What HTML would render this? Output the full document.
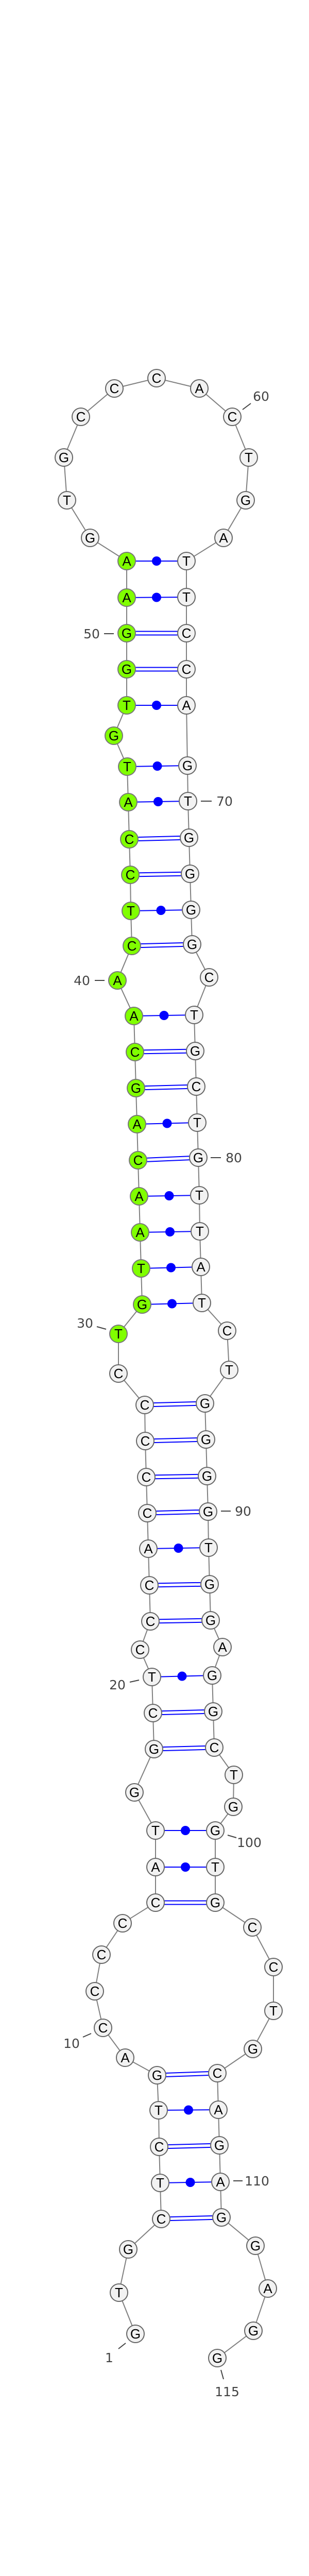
<!DOCTYPE html>
<html><head><meta charset="utf-8"><style>
html,body{margin:0;padding:0;background:#fff;width:600px;height:5273px;overflow:hidden;}
svg{display:block;}
.n{fill:#f2f2f2;stroke:#666;stroke-width:2;}
.g{fill:#80ff00;stroke:#777;stroke-width:2;}
.t{font-family:"Liberation Sans","DejaVu Sans",sans-serif;font-size:26px;text-anchor:middle;fill:#000;}
.l{font-family:"DejaVu Sans","Liberation Sans",sans-serif;font-size:25px;text-anchor:middle;fill:#444;}
.k{stroke:#444;stroke-width:2;}
.b{stroke:#00f;stroke-width:2;}
.d{fill:#00f;}
</style></head><body>
<svg width="600" height="5273" viewBox="0 0 600 5273" xmlns="http://www.w3.org/2000/svg">
<polyline fill="none" stroke="#808080" stroke-width="2" points="263,4530 231,4450 249,4366 313,4307 311,4237 309,4167 308,4096 305,4028 243,3994 200,3936 184,3865 197,3794 238,3733 302,3693 302,3624 302,3553 261,3479 299,3395 297,3325 295,3255 272,3202 292,3147 290,3077 288,3006 286,2937 284,2867 282,2797 281,2727 230,2666 230,2589 276,2532 274,2462 272,2392 270,2322 268,2252 266,2182 264,2112 262,2042 260,1972 228,1903 256,1836 254,1768 253,1698 251,1629 249,1557 247,1488 221,1428 246,1369 246,1299 246,1229 246,1160 246,1089 175,1044 130,971 124,888 157,809 222,754 304,734 387,754 451,809 483,888 477,971 434,1044 362,1089 362,1159 362,1229 362,1299 362,1369 364,1486 365,1555 367,1626 369,1696 371,1766 373,1833 406,1897 377,1970 379,2040 381,2109 383,2179 385,2247 387,2320 388,2390 390,2459 392,2529 441,2583 445,2659 398,2724 400,2794 402,2865 404,2934 405,3004 407,3075 409,3145 432,3197 412,3252 414,3322 416,3392 454,3445 453,3507 418,3553 418,3624 418,3693 490,3741 531,3818 531,3903 491,3977 422,4024 424,4095 426,4164 428,4235 430,4304 496,4359 520,4442 492,4524 422,4577"/>
<g class="b">
<line x1="311" y1="4237" x2="428" y2="4235"/>
<line x1="308" y1="4096" x2="424" y2="4095"/>
<line x1="302" y1="3624" x2="418" y2="3624"/>
<line x1="302" y1="3553" x2="418" y2="3553"/>
<line x1="295" y1="3255" x2="412" y2="3252"/>
<line x1="288" y1="3006" x2="405" y2="3004"/>
<line x1="276" y1="2532" x2="392" y2="2529"/>
<line x1="274" y1="2462" x2="390" y2="2459"/>
<line x1="272" y1="2392" x2="388" y2="2390"/>
<line x1="270" y1="2322" x2="387" y2="2320"/>
<line x1="266" y1="2182" x2="383" y2="2179"/>
<line x1="260" y1="1972" x2="377" y2="1970"/>
<line x1="254" y1="1768" x2="371" y2="1766"/>
<line x1="249" y1="1557" x2="365" y2="1555"/>
<line x1="247" y1="1488" x2="364" y2="1486"/>
<line x1="246" y1="1369" x2="362" y2="1369"/>
<line x1="246" y1="1160" x2="362" y2="1159"/>
<line x1="246" y1="1089" x2="362" y2="1089"/>
</g>
<g class="d">
<circle cx="369.5" cy="4236" r="9"/>
<circle cx="366" cy="4095.5" r="9"/>
<circle cx="360" cy="3624" r="9"/>
<circle cx="360" cy="3553" r="9"/>
<circle cx="353.5" cy="3253.5" r="9"/>
<circle cx="346.5" cy="3005" r="9"/>
<circle cx="334" cy="2530.5" r="9"/>
<circle cx="332" cy="2460.5" r="9"/>
<circle cx="330" cy="2391" r="9"/>
<circle cx="328.5" cy="2321" r="9"/>
<circle cx="324.5" cy="2180.5" r="9"/>
<circle cx="318.5" cy="1971" r="9"/>
<circle cx="312.5" cy="1767" r="9"/>
<circle cx="307" cy="1556" r="9"/>
<circle cx="305.5" cy="1487" r="9"/>
<circle cx="304" cy="1369" r="9"/>
<circle cx="304" cy="1159.5" r="9"/>
<circle cx="304" cy="1089" r="9"/>
</g>
<g class="b">
<line x1="313" y1="4303.5" x2="430" y2="4300.5"/><line x1="313" y1="4310.5" x2="430" y2="4307.5"/>
<line x1="309" y1="4163.5" x2="426" y2="4160.5"/><line x1="309" y1="4170.5" x2="426" y2="4167.5"/>
<line x1="305" y1="4024.5" x2="422" y2="4020.5"/><line x1="305" y1="4031.5" x2="422" y2="4027.5"/>
<line x1="302" y1="3689.5" x2="418" y2="3689.5"/><line x1="302" y1="3696.5" x2="418" y2="3696.5"/>
<line x1="299" y1="3391.5" x2="416" y2="3388.5"/><line x1="299" y1="3398.5" x2="416" y2="3395.5"/>
<line x1="297" y1="3321.5" x2="414" y2="3318.5"/><line x1="297" y1="3328.5" x2="414" y2="3325.5"/>
<line x1="292" y1="3143.5" x2="409" y2="3141.5"/><line x1="292" y1="3150.5" x2="409" y2="3148.5"/>
<line x1="290" y1="3073.5" x2="407" y2="3071.5"/><line x1="290" y1="3080.5" x2="407" y2="3078.5"/>
<line x1="286" y1="2933.5" x2="404" y2="2930.5"/><line x1="286" y1="2940.5" x2="404" y2="2937.5"/>
<line x1="284" y1="2863.5" x2="402" y2="2861.5"/><line x1="284" y1="2870.5" x2="402" y2="2868.5"/>
<line x1="282" y1="2793.5" x2="400" y2="2790.5"/><line x1="282" y1="2800.5" x2="400" y2="2797.5"/>
<line x1="281" y1="2723.5" x2="398" y2="2720.5"/><line x1="281" y1="2730.5" x2="398" y2="2727.5"/>
<line x1="268" y1="2248.5" x2="385" y2="2243.5"/><line x1="268" y1="2255.5" x2="385" y2="2250.5"/>
<line x1="264" y1="2108.5" x2="381" y2="2105.5"/><line x1="264" y1="2115.5" x2="381" y2="2112.5"/>
<line x1="262" y1="2038.5" x2="379" y2="2036.5"/><line x1="262" y1="2045.5" x2="379" y2="2043.5"/>
<line x1="256" y1="1832.5" x2="373" y2="1829.5"/><line x1="256" y1="1839.5" x2="373" y2="1836.5"/>
<line x1="253" y1="1694.5" x2="369" y2="1692.5"/><line x1="253" y1="1701.5" x2="369" y2="1699.5"/>
<line x1="251" y1="1625.5" x2="367" y2="1622.5"/><line x1="251" y1="1632.5" x2="367" y2="1629.5"/>
<line x1="246" y1="1295.5" x2="362" y2="1295.5"/><line x1="246" y1="1302.5" x2="362" y2="1302.5"/>
<line x1="246" y1="1225.5" x2="362" y2="1225.5"/><line x1="246" y1="1232.5" x2="362" y2="1232.5"/>
</g>
<g>
<circle class="n" cx="263" cy="4530" r="17"/><text class="t" x="263" y="4539">G</text>
<circle class="n" cx="231" cy="4450" r="17"/><text class="t" x="231" y="4459">T</text>
<circle class="n" cx="249" cy="4366" r="17"/><text class="t" x="249" y="4375">G</text>
<circle class="n" cx="313" cy="4307" r="17"/><text class="t" x="313" y="4316">C</text>
<circle class="n" cx="311" cy="4237" r="17"/><text class="t" x="311" y="4246">T</text>
<circle class="n" cx="309" cy="4167" r="17"/><text class="t" x="309" y="4176">C</text>
<circle class="n" cx="308" cy="4096" r="17"/><text class="t" x="308" y="4105">T</text>
<circle class="n" cx="305" cy="4028" r="17"/><text class="t" x="305" y="4037">G</text>
<circle class="n" cx="243" cy="3994" r="17"/><text class="t" x="243" y="4003">A</text>
<circle class="n" cx="200" cy="3936" r="17"/><text class="t" x="200" y="3945">C</text>
<circle class="n" cx="184" cy="3865" r="17"/><text class="t" x="184" y="3874">C</text>
<circle class="n" cx="197" cy="3794" r="17"/><text class="t" x="197" y="3803">C</text>
<circle class="n" cx="238" cy="3733" r="17"/><text class="t" x="238" y="3742">C</text>
<circle class="n" cx="302" cy="3693" r="17"/><text class="t" x="302" y="3702">C</text>
<circle class="n" cx="302" cy="3624" r="17"/><text class="t" x="302" y="3633">A</text>
<circle class="n" cx="302" cy="3553" r="17"/><text class="t" x="302" y="3562">T</text>
<circle class="n" cx="261" cy="3479" r="17"/><text class="t" x="261" y="3488">G</text>
<circle class="n" cx="299" cy="3395" r="17"/><text class="t" x="299" y="3404">G</text>
<circle class="n" cx="297" cy="3325" r="17"/><text class="t" x="297" y="3334">C</text>
<circle class="n" cx="295" cy="3255" r="17"/><text class="t" x="295" y="3264">T</text>
<circle class="n" cx="272" cy="3202" r="17"/><text class="t" x="272" y="3211">C</text>
<circle class="n" cx="292" cy="3147" r="17"/><text class="t" x="292" y="3156">C</text>
<circle class="n" cx="290" cy="3077" r="17"/><text class="t" x="290" y="3086">C</text>
<circle class="n" cx="288" cy="3006" r="17"/><text class="t" x="288" y="3015">A</text>
<circle class="n" cx="286" cy="2937" r="17"/><text class="t" x="286" y="2946">C</text>
<circle class="n" cx="284" cy="2867" r="17"/><text class="t" x="284" y="2876">C</text>
<circle class="n" cx="282" cy="2797" r="17"/><text class="t" x="282" y="2806">C</text>
<circle class="n" cx="281" cy="2727" r="17"/><text class="t" x="281" y="2736">C</text>
<circle class="n" cx="230" cy="2666" r="17"/><text class="t" x="230" y="2675">C</text>
<circle class="g" cx="230" cy="2589" r="17"/><text class="t" x="230" y="2598">T</text>
<circle class="g" cx="276" cy="2532" r="17"/><text class="t" x="276" y="2541">G</text>
<circle class="g" cx="274" cy="2462" r="17"/><text class="t" x="274" y="2471">T</text>
<circle class="g" cx="272" cy="2392" r="17"/><text class="t" x="272" y="2401">A</text>
<circle class="g" cx="270" cy="2322" r="17"/><text class="t" x="270" y="2331">A</text>
<circle class="g" cx="268" cy="2252" r="17"/><text class="t" x="268" y="2261">C</text>
<circle class="g" cx="266" cy="2182" r="17"/><text class="t" x="266" y="2191">A</text>
<circle class="g" cx="264" cy="2112" r="17"/><text class="t" x="264" y="2121">G</text>
<circle class="g" cx="262" cy="2042" r="17"/><text class="t" x="262" y="2051">C</text>
<circle class="g" cx="260" cy="1972" r="17"/><text class="t" x="260" y="1981">A</text>
<circle class="g" cx="228" cy="1903" r="17"/><text class="t" x="228" y="1912">A</text>
<circle class="g" cx="256" cy="1836" r="17"/><text class="t" x="256" y="1845">C</text>
<circle class="g" cx="254" cy="1768" r="17"/><text class="t" x="254" y="1777">T</text>
<circle class="g" cx="253" cy="1698" r="17"/><text class="t" x="253" y="1707">C</text>
<circle class="g" cx="251" cy="1629" r="17"/><text class="t" x="251" y="1638">C</text>
<circle class="g" cx="249" cy="1557" r="17"/><text class="t" x="249" y="1566">A</text>
<circle class="g" cx="247" cy="1488" r="17"/><text class="t" x="247" y="1497">T</text>
<circle class="g" cx="221" cy="1428" r="17"/><text class="t" x="221" y="1437">G</text>
<circle class="g" cx="246" cy="1369" r="17"/><text class="t" x="246" y="1378">T</text>
<circle class="g" cx="246" cy="1299" r="17"/><text class="t" x="246" y="1308">G</text>
<circle class="g" cx="246" cy="1229" r="17"/><text class="t" x="246" y="1238">G</text>
<circle class="g" cx="246" cy="1160" r="17"/><text class="t" x="246" y="1169">A</text>
<circle class="g" cx="246" cy="1089" r="17"/><text class="t" x="246" y="1098">A</text>
<circle class="n" cx="175" cy="1044" r="17"/><text class="t" x="175" y="1053">G</text>
<circle class="n" cx="130" cy="971" r="17"/><text class="t" x="130" y="980">T</text>
<circle class="n" cx="124" cy="888" r="17"/><text class="t" x="124" y="897">G</text>
<circle class="n" cx="157" cy="809" r="17"/><text class="t" x="157" y="818">C</text>
<circle class="n" cx="222" cy="754" r="17"/><text class="t" x="222" y="763">C</text>
<circle class="n" cx="304" cy="734" r="17"/><text class="t" x="304" y="743">C</text>
<circle class="n" cx="387" cy="754" r="17"/><text class="t" x="387" y="763">A</text>
<circle class="n" cx="451" cy="809" r="17"/><text class="t" x="451" y="818">C</text>
<circle class="n" cx="483" cy="888" r="17"/><text class="t" x="483" y="897">T</text>
<circle class="n" cx="477" cy="971" r="17"/><text class="t" x="477" y="980">G</text>
<circle class="n" cx="434" cy="1044" r="17"/><text class="t" x="434" y="1053">A</text>
<circle class="n" cx="362" cy="1089" r="17"/><text class="t" x="362" y="1098">T</text>
<circle class="n" cx="362" cy="1159" r="17"/><text class="t" x="362" y="1168">T</text>
<circle class="n" cx="362" cy="1229" r="17"/><text class="t" x="362" y="1238">C</text>
<circle class="n" cx="362" cy="1299" r="17"/><text class="t" x="362" y="1308">C</text>
<circle class="n" cx="362" cy="1369" r="17"/><text class="t" x="362" y="1378">A</text>
<circle class="n" cx="364" cy="1486" r="17"/><text class="t" x="364" y="1495">G</text>
<circle class="n" cx="365" cy="1555" r="17"/><text class="t" x="365" y="1564">T</text>
<circle class="n" cx="367" cy="1626" r="17"/><text class="t" x="367" y="1635">G</text>
<circle class="n" cx="369" cy="1696" r="17"/><text class="t" x="369" y="1705">G</text>
<circle class="n" cx="371" cy="1766" r="17"/><text class="t" x="371" y="1775">G</text>
<circle class="n" cx="373" cy="1833" r="17"/><text class="t" x="373" y="1842">G</text>
<circle class="n" cx="406" cy="1897" r="17"/><text class="t" x="406" y="1906">C</text>
<circle class="n" cx="377" cy="1970" r="17"/><text class="t" x="377" y="1979">T</text>
<circle class="n" cx="379" cy="2040" r="17"/><text class="t" x="379" y="2049">G</text>
<circle class="n" cx="381" cy="2109" r="17"/><text class="t" x="381" y="2118">C</text>
<circle class="n" cx="383" cy="2179" r="17"/><text class="t" x="383" y="2188">T</text>
<circle class="n" cx="385" cy="2247" r="17"/><text class="t" x="385" y="2256">G</text>
<circle class="n" cx="387" cy="2320" r="17"/><text class="t" x="387" y="2329">T</text>
<circle class="n" cx="388" cy="2390" r="17"/><text class="t" x="388" y="2399">T</text>
<circle class="n" cx="390" cy="2459" r="17"/><text class="t" x="390" y="2468">A</text>
<circle class="n" cx="392" cy="2529" r="17"/><text class="t" x="392" y="2538">T</text>
<circle class="n" cx="441" cy="2583" r="17"/><text class="t" x="441" y="2592">C</text>
<circle class="n" cx="445" cy="2659" r="17"/><text class="t" x="445" y="2668">T</text>
<circle class="n" cx="398" cy="2724" r="17"/><text class="t" x="398" y="2733">G</text>
<circle class="n" cx="400" cy="2794" r="17"/><text class="t" x="400" y="2803">G</text>
<circle class="n" cx="402" cy="2865" r="17"/><text class="t" x="402" y="2874">G</text>
<circle class="n" cx="404" cy="2934" r="17"/><text class="t" x="404" y="2943">G</text>
<circle class="n" cx="405" cy="3004" r="17"/><text class="t" x="405" y="3013">T</text>
<circle class="n" cx="407" cy="3075" r="17"/><text class="t" x="407" y="3084">G</text>
<circle class="n" cx="409" cy="3145" r="17"/><text class="t" x="409" y="3154">G</text>
<circle class="n" cx="432" cy="3197" r="17"/><text class="t" x="432" y="3206">A</text>
<circle class="n" cx="412" cy="3252" r="17"/><text class="t" x="412" y="3261">G</text>
<circle class="n" cx="414" cy="3322" r="17"/><text class="t" x="414" y="3331">G</text>
<circle class="n" cx="416" cy="3392" r="17"/><text class="t" x="416" y="3401">C</text>
<circle class="n" cx="454" cy="3445" r="17"/><text class="t" x="454" y="3454">T</text>
<circle class="n" cx="453" cy="3507" r="17"/><text class="t" x="453" y="3516">G</text>
<circle class="n" cx="418" cy="3553" r="17"/><text class="t" x="418" y="3562">G</text>
<circle class="n" cx="418" cy="3624" r="17"/><text class="t" x="418" y="3633">T</text>
<circle class="n" cx="418" cy="3693" r="17"/><text class="t" x="418" y="3702">G</text>
<circle class="n" cx="490" cy="3741" r="17"/><text class="t" x="490" y="3750">C</text>
<circle class="n" cx="531" cy="3818" r="17"/><text class="t" x="531" y="3827">C</text>
<circle class="n" cx="531" cy="3903" r="17"/><text class="t" x="531" y="3912">T</text>
<circle class="n" cx="491" cy="3977" r="17"/><text class="t" x="491" y="3986">G</text>
<circle class="n" cx="422" cy="4024" r="17"/><text class="t" x="422" y="4033">C</text>
<circle class="n" cx="424" cy="4095" r="17"/><text class="t" x="424" y="4104">A</text>
<circle class="n" cx="426" cy="4164" r="17"/><text class="t" x="426" y="4173">G</text>
<circle class="n" cx="428" cy="4235" r="17"/><text class="t" x="428" y="4244">A</text>
<circle class="n" cx="430" cy="4304" r="17"/><text class="t" x="430" y="4313">G</text>
<circle class="n" cx="496" cy="4359" r="17"/><text class="t" x="496" y="4368">G</text>
<circle class="n" cx="520" cy="4442" r="17"/><text class="t" x="520" y="4451">A</text>
<circle class="n" cx="492" cy="4524" r="17"/><text class="t" x="492" y="4533">G</text>
<circle class="n" cx="422" cy="4577" r="17"/><text class="t" x="422" y="4586">G</text>
</g>
<g>
<line class="k" x1="471" y1="795" x2="487" y2="783"/><text class="l" x="507" y="778">60</text>
<line class="k" x1="202" y1="1230" x2="221" y2="1230"/><text class="l" x="178" y="1239">50</text>
<line class="k" x1="390" y1="1555" x2="411" y2="1555"/><text class="l" x="436" y="1564">70</text>
<line class="k" x1="184" y1="1903" x2="203" y2="1903"/><text class="l" x="159" y="1912">40</text>
<line class="k" x1="409" y1="2247" x2="429" y2="2247"/><text class="l" x="454" y="2256">80</text>
<line class="k" x1="188" y1="2575" x2="206" y2="2580"/><text class="l" x="165" y="2577">30</text>
<line class="k" x1="429" y1="2933" x2="448" y2="2933"/><text class="l" x="472" y="2942">90</text>
<line class="k" x1="252" y1="3265" x2="270" y2="3261"/><text class="l" x="228" y="3279">20</text>
<line class="k" x1="442" y1="3562" x2="459" y2="3567"/><text class="l" x="484" y="3585">100</text>
<line class="k" x1="161" y1="3954" x2="177" y2="3947"/><text class="l" x="139" y="3975">10</text>
<line class="k" x1="453" y1="4233" x2="471" y2="4233"/><text class="l" x="499" y="4242">110</text>
<line class="k" x1="230" y1="4559" x2="244" y2="4548"/><text class="l" x="212" y="4585">1</text>
<line class="k" x1="429" y1="4600" x2="434" y2="4618"/><text class="l" x="441" y="4651">115</text>
</g>
<text x="300" y="5268" text-anchor="middle" font-family="'DejaVu Sans','Liberation Sans',sans-serif" font-size="11" font-weight="bold" fill="#000">rno-mir-194-2_annot [-54.2]</text>
</svg>
</body></html>
